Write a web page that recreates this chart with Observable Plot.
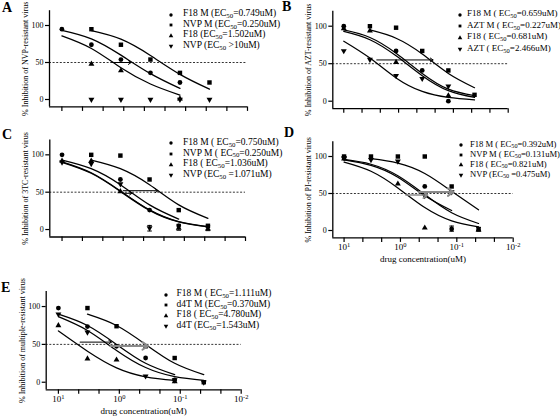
<!DOCTYPE html>
<html><head><meta charset="utf-8">
<script src="https://cdn.jsdelivr.net/npm/d3@7"></script>
<script src="https://cdn.jsdelivr.net/npm/@observablehq/plot@0.6"></script>
<style>
body{margin:0;background:#fff;}
#fig{position:relative;width:560px;height:418px;overflow:hidden;background:#fff;font-family:"Liberation Serif","Times New Roman",serif;color:#000;}
#fig svg.plt{position:absolute;}
.letter{position:absolute;font-weight:bold;font-size:14px;line-height:1;}
.lg{position:absolute;line-height:11px;white-space:pre;}
.lg .sub{font-size:0.72em;position:relative;top:0.28em;}
svg.lgs{position:absolute;overflow:visible;}
</style></head><body><div id="fig"></div>
<script>
// ---------- data ----------
const conc = [10, 3.333, 1.111, 0.3704, 0.1235, 0.04115];   // drug concentration (uM)
const xTicks = [10, 4.642, 2.154, 1, 0.4642, 0.2154, 0.1, 0.04642, 0.02154, 0.01];
const xTickLabels = ["10^1", "", "", "10^0", "", "", "10^-1", "", "", "10^-2"];
const yTicks = [0, 50, 100];
const xDomain = [15.85, 0.01];
const yDomain = [-10, 120];
const xTitle = "drug concentration(uM)";
const yTitles = [
  "% Inhibition of NVP-resistant virus",
  "% Inhibition of AZT-resistant virus",
  "% Inhibition of 3TC-resistant virus",
  "% Inhibition of PI-resistant virus",
  "% Inhibition of multiple-resistant virus"
];
const panelLetters = ["A", "B", "C", "D", "E"];

// legend text: prefix + EC(50) + suffix, series order: circle, square, triangle, inverted triangle
const legPreA = ["F18 M (", "NVP M (", "F18 (", "NVP ("];
const legPostA = ["=0.749uM)", "=0.250uM)", "=1.502uM)", " >10uM)"];
const legPreB = ["F18 M ( ", "AZT M ( ", "F18 ( ", "AZT ( "];
const legPostB = ["=0.659uM)", "=0.227uM)", "=0.681uM)", "=2.466uM)"];
const legPreC = ["F18 M ( ", "NVP M ( ", "F18 ( ", "NVP ("];
const legPostC = ["=0.750uM)", "=0.250uM)", "=1.036uM)", " =1.071uM)"];
const legPreD = ["F18 M ( ", "NVP M ( ", "F18 ( ", "NVP ("];
const legPostD = ["=0.392uM)", "=0.131uM)", "=0.821uM)", " =0.475uM)"];
const legPreE = ["F18 M ( ", "d4T M (", "F18 ( ", "d4T ("];
const legPostE = ["=1.111uM)", "=0.370uM)", "=4.780uM)", "=1.543uM)"];

// measured points (% inhibition) at each concentration; rows = series
const pointsA = [
  [95, 74, 54, 36, 23, null],
  [null, 95, 74, 54, 36, 23],
  [null, 48, 39, null, 1, null],
  [null, 0, 0, 0, 0, 0]
];
const curvesA = [
  [93.5, 82, 60, 35, 15, null],
  [null, 93, 81.5, 59.5, 34, 14],
  [86, 69, 43, 21, 6, null],
  [null, null, null, null, null, null]
];
const arrowsA = [[1.55, 0.76, 50]];
const errorsA = [];

const pointsB = [
  [100, null, 67, 41, 0, null],
  [null, 100, 98, 67, 41, 8.5],
  [97, 94, 52, null, 7.5, null],
  [67, 55.5, 34, 30, 20, null]
];
const curvesB = [
  [95, 85, 64, 37, 16, 7.5],
  [null, 95, 84, 63, 37, 18],
  [93, 82, 60.5, 34, 14, 5],
  [80, 57.5, 31, 13, 5, 1.8]
];
const arrowsB = [[2.5, 0.235, 55]];
const errorsB = [];

const pointsC = [
  [100, null, 67, 26, 5, null],
  [null, 100, 99, 67, 26, 5],
  [92, 92, 51, null, 2, 1],
  [90, 88, 61, 2, null, null]
];
const curvesC = [
  [93, 81.5, 60, 33, 14, null],
  [null, 93, 81.5, 60, 33, 15],
  [90.6, 76, 51.7, 26.3, 10.6, 3.8],
  [90, 75.3, 51, 25.6, 10.2, 3.6]
];
const arrowsC = [[1.0, 0.27, 52], [1.0, 0.72, 48.5]];
const errorsC = [[3, -2, 5.5], [4, -1, 7], [5, -1.5, 5]];

const pointsD = [
  [99, null, null, 59.5, 2, null],
  [100, 100, 100, 100, 59.5, 2],
  [97, null, 63, 3.6, null, 1],
  [98, 95.5, 93.5, 47, 52, null]
];
const curvesD = [
  [96, 89.5, 74, 48.6, 24, 9.5],
  [null, 97, 91, 77, 53, 28],
  [92.4, 80, 57.5, 31, 13, 4.8],
  [95.5, 88, 72, 47, 27, null]
];
const arrowsD = [[0.47, 0.115, 52], [0.8, 0.33, 48]];
const errorsD = [[4, -1, 6], [5, -1, 4]];

const pointsE = [
  [98, 73.5, 47.5, 32, 3, null],
  [null, 98, 74, 47.5, 32, 0],
  [75, 31, 29.5, null, 1, null],
  [90, 66, null, 8, 3, 0]
];
const curvesE = [
  [90, 75, 50, 25, 10, null],
  [null, 90, 75, 50, 25, 10],
  [67.7, 41, 19, 7.2, 2.5, null],
  [86.6, 68.4, 42, 19.4, 7.4, 2.6]
];
const arrowsE = [[4.4, 1.35, 53], [1.4, 0.34, 48]];
const errorsE = [];

// ---------- layout (page pixel positions) ----------
const layout = [
  {left:0,   top:0,   w:280, h:130, L:49,    T:10.2,  R:247,   B:106.4, xlab:false, letter:[2,1],     legMX:170.5, legTX:183,   legY:14.5,  legDy:10.6, legFont:9.5, arrowColor:["#000"], arrowW:[1]},
  {left:280, top:0,   w:280, h:130, L:332.3, T:10.7,  R:507.7, B:108.2, xlab:false, letter:[282,0],   legMX:459.5, legTX:467,   legY:14.5,  legDy:11.5, legFont:9,   arrowColor:["#000"], arrowW:[1]},
  {left:0,   top:130, w:280, h:130, L:49.3,  T:139.4, R:245,   B:236.5, xlab:false, letter:[2,128],   legMX:170.5, legTX:183,   legY:143,   legDy:10.8, legFont:9.5, arrowColor:["#000","#000"], arrowW:[1,1]},
  {left:280, top:130, w:280, h:145, L:332.3, T:141.2, R:512.7, B:237.4, xlab:true,  letter:[284,126], legMX:461,   legTX:470,   legY:145,   legDy:10,   legFont:8.6, arrowColor:["#8a8a8a","#8a8a8a"], arrowW:[2,1.6]},
  {left:0,   top:280, w:280, h:138, L:45.7,  T:290.9, R:240.7, B:389.3, xlab:true,  letter:[1,281],   legMX:165.5, legTX:176.5, legY:294.5, legDy:10.6, legFont:9.5, arrowColor:["#000","#8a8a8a"], arrowW:[1,2]}
];

const sqrt3 = Math.sqrt(3);
const triDown = {draw(ctx, size) {
  const y = -Math.sqrt(size / (sqrt3 * 3));
  ctx.moveTo(0, -y * 2); ctx.lineTo(-sqrt3 * y, y); ctx.lineTo(sqrt3 * y, y); ctx.closePath();
}};
const capSym = {draw(ctx, size) { const w = Math.sqrt(size) * 0.8; ctx.moveTo(-w, 0); ctx.lineTo(w, 0); }};
const symbols = [d3.symbolCircle, d3.symbolSquare, d3.symbolTriangle, triDown];
const dotR = [2.4, 2.5, 2.2, 2.2];
const legSize = [9, 8, 9, 9];

const fig = document.getElementById("fig");
const tickLabelOf = new Map(xTicks.map((t, i) => [t, xTickLabels[i]]));

function tidy(rows) {
  const out = [];
  rows.forEach((row, s) => row.forEach((v, i) => { if (v != null) out.push({x: conc[i], y: v, s}); }));
  return out;
}

function makePanel(k, points, curves, arrows, errors, pre, post) {
  const cfg = layout[k];
  const pts = tidy(points);
  const crv = tidy(curves);
  const err = errors.map(([i, lo, hi]) => ({x: conc[i], lo, hi}));
  const marks = [
    Plot.ruleY([50], {stroke: "#000", strokeWidth: 0.8, strokeDasharray: "2,1.6"}),
    Plot.line(crv, {x: "x", y: "y", z: "s", curve: "natural", stroke: "#000", strokeWidth: 1.25}),
    Plot.ruleX(err, {x: "x", y1: "lo", y2: "hi", stroke: "#000", strokeWidth: 1}),
    Plot.dot(err, {x: "x", y: "lo", symbol: capSym, stroke: "#000", strokeWidth: 1, r: 1.6}),
    Plot.dot(err, {x: "x", y: "hi", symbol: capSym, stroke: "#000", strokeWidth: 1, r: 1.6}),
    ...symbols.map((sym, s) => Plot.dot(pts.filter(d => d.s === s), {x: "x", y: "y", symbol: sym, fill: "#000", r: dotR[s]})),
    ...arrows.map(([from, to, y], j) => Plot.arrow([{from, to, y}], {x1: "from", x2: "to", y1: "y", y2: "y",
        stroke: cfg.arrowColor[j], strokeWidth: cfg.arrowW[j], headLength: 5, headAngle: 70})),
    Plot.ruleX([xDomain[0]], {stroke: "#000", strokeWidth: 1.3}),
    Plot.ruleY([yDomain[0]], {stroke: "#000", strokeWidth: 1.3}),
    Plot.axisY(yTicks, {tickSize: 4, tickPadding: 2, fontSize: 8, strokeWidth: 1.2,
        label: yTitles[k], labelAnchor: "center", labelOffset: 27, labelArrow: "none"}),
    Plot.axisX(xTicks, {tickSize: 4.5, tickPadding: 1.5, fontSize: 9, strokeWidth: 1.2,
        tickFormat: cfg.xlab ? (d => tickLabelOf.get(d) ?? "") : (() => ""),
        label: cfg.xlab ? xTitle : null, labelAnchor: "center", labelOffset: 24, labelArrow: "none"})
  ];
  const svg = Plot.plot({
    width: cfg.w, height: cfg.h,
    marginLeft: cfg.L - cfg.left, marginRight: cfg.left + cfg.w - cfg.R,
    marginTop: cfg.T - cfg.top, marginBottom: cfg.top + cfg.h - cfg.B,
    x: {type: "log", domain: xDomain},
    y: {domain: yDomain},
    style: {background: "transparent", overflow: "visible", fontFamily: "'Liberation Serif', 'Times New Roman', serif", fontSize: "8px", color: "#000"},
    marks
  });
  svg.classList.add("plt");
  svg.style.left = cfg.left + "px";
  svg.style.top = cfg.top + "px";
  // superscript exponents on decade tick labels
  d3.select(svg).selectAll("text").each(function() {
    const t = this.textContent;
    if (/^10\^/.test(t) && this.children.length === 0) {
      const exp = t.split("^")[1];
      this.textContent = "10";
      d3.select(this).append("tspan").attr("dy", "-0.45em").attr("font-size", "6.5px").text(exp);
    }
  });
  fig.appendChild(svg);

  // panel letter
  d3.select(fig).append("div").attr("class", "letter")
    .style("left", cfg.letter[0] + "px").style("top", cfg.letter[1] + "px").text(panelLetters[k]);

  // legend
  pre.forEach((p, s) => {
    const y = cfg.legY + s * cfg.legDy;
    const ls = d3.select(fig).append("svg").attr("class", "lgs")
      .style("left", (cfg.legMX - 4) + "px").style("top", (y - 4) + "px").attr("width", 8).attr("height", 8);
    ls.append("path").attr("transform", "translate(4,4)").attr("fill", "#000").attr("d", d3.symbol(symbols[s], legSize[s])());
    const div = d3.select(fig).append("div").attr("class", "lg")
      .style("font-size", cfg.legFont + "px")
      .style("left", cfg.legTX + "px").style("top", (y - 6.3) + "px");
    div.append("span").text(p + "EC");
    div.append("span").attr("class", "sub").text("50");
    div.append("span").text(post[s]);
  });
}

makePanel(0, pointsA, curvesA, arrowsA, errorsA, legPreA, legPostA);
makePanel(1, pointsB, curvesB, arrowsB, errorsB, legPreB, legPostB);
makePanel(2, pointsC, curvesC, arrowsC, errorsC, legPreC, legPostC);
makePanel(3, pointsD, curvesD, arrowsD, errorsD, legPreD, legPostD);
makePanel(4, pointsE, curvesE, arrowsE, errorsE, legPreE, legPostE);
</script>
</body></html>
